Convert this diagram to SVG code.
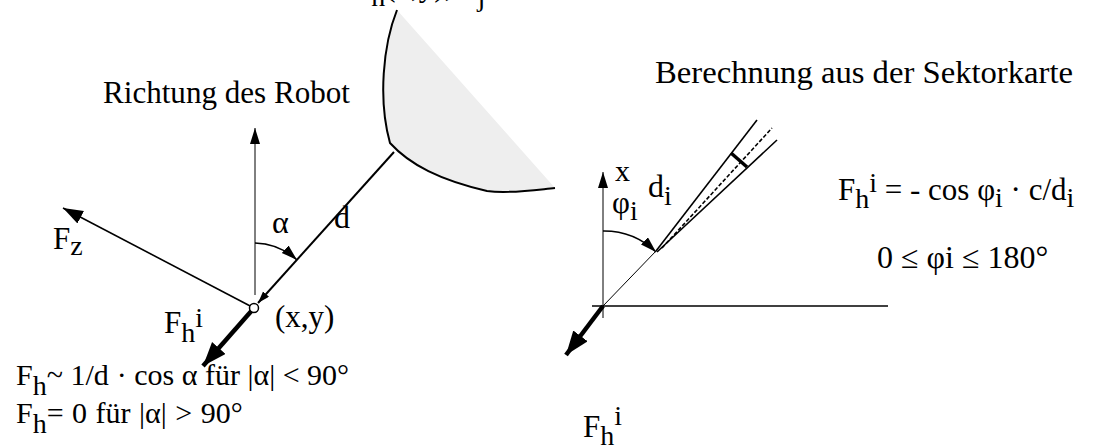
<svg xmlns="http://www.w3.org/2000/svg" width="1093" height="446" viewBox="0 0 1093 446">
<style>
text{font-family:"Liberation Serif","Times New Roman",serif;font-size:31px;fill:#000}
.ln{stroke:#000;fill:none}
.t1{stroke-width:1}
.t15{stroke-width:1.6}
.t2{stroke-width:2}
.thick{stroke-width:4.5}
.sub{font-size:28px}
.big{font-size:32px}
.f30{font-size:30px}
</style>
<defs>
<marker id="ah" markerUnits="userSpaceOnUse" markerWidth="24" markerHeight="16" refX="20" refY="7" orient="auto"><path d="M0,0 L20,7 L0,14 Z" fill="#000"/></marker>
<marker id="ahs" markerUnits="userSpaceOnUse" markerWidth="18" markerHeight="12" refX="16" refY="5" orient="auto"><path d="M0,0 L16,5 L0,10 Z" fill="#000"/></marker>
<marker id="ahb" markerUnits="userSpaceOnUse" markerWidth="26" markerHeight="20" refX="24" refY="9" orient="auto"><path d="M0,0 L24,9 L0,18 Z" fill="#000"/></marker>
<marker id="ahsm" markerUnits="userSpaceOnUse" markerWidth="14" markerHeight="10" refX="12" refY="4" orient="auto"><path d="M0,0 L12,4 L0,8 Z" fill="#000"/></marker>
</defs>

<g id="top-label">
<text x="354" y="-4">F<tspan class="sub" dy="10">h</tspan><tspan dy="-10">(x,y), F</tspan><tspan class="sub" dy="10">j</tspan></text>
</g>

<g id="obstacle">
<path d="M397,10 C383,45 378,100 390,143 C410,165 440,180 487,191 C510,194 535,190 555,188 Z" fill="#eeeeee" stroke="none"/>
<path d="M397,10 C383,45 378,100 390,143 C410,165 440,180 487,191 C510,194 535,190 555,188" class="ln t2"/>
</g>

<g id="connectors">
<line x1="255" y1="295" x2="255" y2="128" class="ln t1" marker-end="url(#ahs)"/>
<line x1="254" y1="308" x2="63" y2="208" class="ln t15" marker-end="url(#ah)"/>
<line x1="394" y1="152" x2="258" y2="303" class="ln t2" marker-end="url(#ahsm)"/>
<line x1="254" y1="308" x2="203" y2="366" class="ln thick" marker-end="url(#ahb)"/>
<path d="M255,243 A65,65 0 0 1 297,260" class="ln t15" marker-end="url(#ahs)"/>

<line x1="603" y1="318" x2="603" y2="172" class="ln t1" marker-end="url(#ahs)"/>
<line x1="592" y1="306" x2="888" y2="306" class="ln t15"/>
<line x1="603" y1="306" x2="657" y2="250" class="ln t1"/>
<line x1="656" y1="251" x2="757" y2="120" class="ln t15"/>
<line x1="657" y1="252" x2="777" y2="140" class="ln t15"/>
<line x1="662" y1="248" x2="772" y2="128" class="ln t15" stroke-dasharray="4,2"/>
<line x1="731" y1="153" x2="747" y2="167" class="ln" stroke-width="3.5"/>
<path d="M603,231 A75,75 0 0 1 656,252" class="ln t15" marker-end="url(#ahs)"/>
<line x1="603" y1="306" x2="566" y2="355" class="ln thick" marker-end="url(#ahb)"/>
</g>

<g id="point">
<circle cx="254" cy="308" r="4.5" fill="#fff" stroke="#000" stroke-width="1.5"/>
</g>

<g id="labels-left">
<text x="103" y="103" textLength="247" lengthAdjust="spacingAndGlyphs">Richtung des Robot</text>
<text class="big" x="272" y="233">α</text>
<text class="big" x="334" y="228">d</text>
<text x="53" y="249">F<tspan class="sub" dy="6">z</tspan></text>
<text x="164" y="333">F<tspan class="sub" dy="9">h</tspan><tspan class="sub" dy="-15">i</tspan></text>
<text x="275" y="327">(x,y)</text>
<text class="f30" x="16" y="385">F<tspan class="sub" dy="10">h</tspan><tspan dy="-10">~ 1/d</tspan><tspan dx="8">· cos α für |α| &lt; 90°</tspan></text>
<text class="f30" x="16" y="423" word-spacing="1">F<tspan class="sub" dy="10">h</tspan><tspan dy="-10">= 0 für |α| &gt; 90°</tspan></text>
</g>

<g id="labels-right">
<text x="655" y="83" textLength="418" lengthAdjust="spacingAndGlyphs">Berechnung aus der Sektorkarte</text>
<text class="f30" x="615" y="181">x</text>
<text x="612" y="213">φ<tspan class="sub" dy="7">i</tspan></text>
<text class="big" x="648" y="197">d<tspan class="sub" dy="8">i</tspan></text>
<text x="583" y="437">F<tspan class="sub" dy="8">h</tspan><tspan class="sub" dy="-20">i</tspan></text>
<text x="838" y="200">F<tspan class="sub" dy="8">h</tspan><tspan class="sub" dy="-16">i</tspan><tspan dy="8"> = - cos φ</tspan><tspan class="sub" dy="7">i</tspan><tspan dy="-7"> · c/d</tspan><tspan class="sub" dy="7">i</tspan></text>
<text class="big" x="877" y="268">0 ≤ φi ≤ 180°</text>
</g>
</svg>
